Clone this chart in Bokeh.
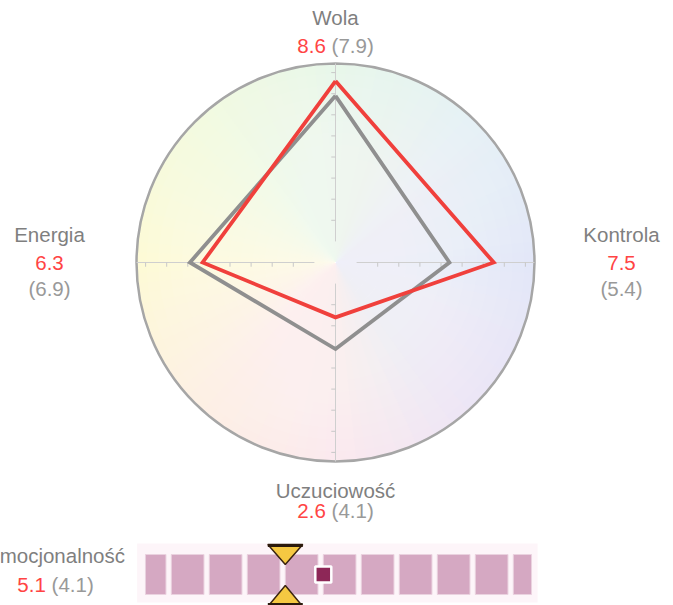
import numpy as np
from bokeh.plotting import figure
from bokeh.models import Range1d
from bokeh.core.properties import value
from bokeh.embed import file_html
from bokeh.resources import INLINE

# ---------------- data ----------------
axis_names = ["Wola", "Kontrola", "Uczuciowość", "Energia"]
axis_angles_deg = [90, 0, 270, 180]
current_values = [8.6, 7.5, 2.6, 6.3]
previous_values = [7.9, 5.4, 4.1, 6.9]

emo_name = "Emocjonalność"
emo_current = 5.1
emo_previous = 4.1
bar_max = 10

# ---------------- layout / style ----------------
W, H = 673, 605
S = 21.1            # pixels per radar unit
CX, CY = 335, 262   # radar centre in page pixels
R = 199 / S         # circle radius in units
BAR0, BAR_U = 129, 38.0  # bar: page x of value 0, px per unit
TY = -8             # text baseline correction

RED = "#f0403c"
GREY_LINE = "#8f8f8f"
LABEL = "#7f7f7f"
VAL_RED = "#ff4444"
VAL_GREY = "#999999"
FONT = value("Liberation Sans")
FS = value("20.5px")

p = figure(width=W, height=H, output_backend="svg", toolbar_location=None,
           x_range=Range1d((0 - CX) / S, (W - CX) / S),
           y_range=Range1d((CY - H) / S, CY / S),
           x_axis_type=None, y_axis_type=None, min_border=0,
           background_fill_color="white", border_fill_color="white")
p.outline_line_color = None
p.extra_x_ranges = {"px": Range1d(0, W),
                    "bar": Range1d((0 - BAR0) / BAR_U, (W - BAR0) / BAR_U)}
p.extra_y_ranges = {"px": Range1d(H, 0)}

# ---------------- circle background gradient ----------------
anchors = [(0, "#e3e7f8"), (45, "#e6f1f6"), (90, "#e8f7ea"), (135, "#f3fae0"),
           (180, "#fdfad6"), (225, "#fdf0e4"), (270, "#fbe9ee"), (315, "#ece6f6"),
           (360, "#e3e7f8")]

def hex2rgb(h):
    return np.array([int(h[i:i + 2], 16) for i in (1, 3, 5)], dtype=float)

n = 120
starts, ends, cols = [], [], []
for i in range(n):
    a = 360.0 * (i + 0.5) / n
    for j in range(len(anchors) - 1):
        if anchors[j][0] <= a <= anchors[j + 1][0]:
            t = (a - anchors[j][0]) / (anchors[j + 1][0] - anchors[j][0])
            c = hex2rgb(anchors[j][1]) * (1 - t) + hex2rgb(anchors[j + 1][1]) * t
            break
    cols.append("#%02x%02x%02x" % tuple(int(round(v)) for v in c))
    starts.append(np.deg2rad(360.0 * i / n))
    ends.append(np.deg2rad(360.0 * (i + 1.6) / n))
p.wedge(x=0, y=0, radius=R, start_angle=starts, end_angle=ends,
        fill_color=cols, line_color=None)
for k in range(16):
    p.circle(x=0, y=0, radius=R * (1 - k / 16.0) * 0.95, fill_color="white",
             fill_alpha=0.06, line_color=None)
p.circle(x=0, y=0, radius=R, fill_color=None, line_color="#a6a6a6", line_width=2.5)

# ---------------- axes with ticks ----------------
gap = 1.0
for ang in axis_angles_deg:
    c, s_ = np.cos(np.deg2rad(ang)), np.sin(np.deg2rad(ang))
    p.line(x=[gap * c, R * c], y=[gap * s_, R * s_], line_color="#cfcfcf", line_width=1)
    ticks = np.arange(2, 10)
    tl = 0.2
    if ang in (0, 180):
        p.segment(x0=ticks * c, y0=0, x1=ticks * c, y1=-tl, line_color="#c8c8c8", line_width=1)
    else:
        p.segment(x0=0, y0=ticks * s_, x1=-tl, y1=ticks * s_, line_color="#c8c8c8", line_width=1)

# ---------------- radar polygons ----------------
def poly(vals):
    xs = [v * np.cos(np.deg2rad(a)) for v, a in zip(vals, axis_angles_deg)]
    ys = [v * np.sin(np.deg2rad(a)) for v, a in zip(vals, axis_angles_deg)]
    return xs + xs[:1], ys + ys[:1]

gx, gy = poly(previous_values)
rx, ry = poly(current_values)
p.line(gx, gy, line_color=GREY_LINE, line_width=3.8, line_join="miter")
p.line(rx, ry, line_color=RED, line_width=3.8, line_join="miter")

# ---------------- labels ----------------
def txt(x, y, t, color, align="center"):
    p.text(x=[x], y=[y + TY], text=[t], text_font=FONT, text_font_size=FS,
           text_color=color, text_align=align, text_baseline="alphabetic",
           x_range_name="px", y_range_name="px")

def pair(xc, y, cur, prev):
    a, b = "%.1f" % cur, "(%.1f)" % prev
    w_a = 28.5
    w_b = 42.1
    sp = 5.8
    start = xc - (w_a + sp + w_b) / 2
    txt(start + w_a, y, a, VAL_RED, "right")
    txt(start + w_a + sp, y, b, VAL_GREY, "left")

label_pos = {"Wola": (335, 25, 53, None),
             "Kontrola": (621, 242, 270, 296),
             "Uczuciowość": (335, 498, 518, None),
             "Energia": (49, 242, 270, 296)}
for name, cur, prev in zip(axis_names, current_values, previous_values):
    xc, yl, yv, yp = label_pos[name]
    txt(xc, yl, name, LABEL)
    if yp is None:
        pair(xc, yv, cur, prev)
    else:
        txt(xc, yv, "%.1f" % cur, VAL_RED)
        txt(xc, yp, "(%.1f)" % prev, VAL_GREY)

# ---------------- emotionality bar ----------------
txt(55, 563, emo_name, LABEL)
pair(55, 592, emo_current, emo_previous)

p.quad(left=0.2, right=10.74, bottom=602, top=543, fill_color="#fdf5f9",
       line_color=None, x_range_name="bar", y_range_name="px")
seg_left = [0.42] + [k + 0.1 for k in range(1, bar_max + 1)]
seg_right = [k + 0.96 for k in range(0, bar_max)] + [10.58]
p.quad(left=seg_left, right=seg_right, bottom=594, top=554,
       fill_color="#d5a8c2", line_color="#ead2df", line_width=1,
       x_range_name="bar", y_range_name="px")

hw = 0.46
hx = emo_previous
p.patches(xs=[[hx - hw, hx + hw, hx], [hx - hw, hx + hw, hx]],
          ys=[[544, 544, 564], [606, 606, 585]],
          fill_color="#f5c842", line_color="#3a2410", line_width=1.5,
          x_range_name="bar", y_range_name="px")
p.segment(x0=[hx - hw, hx - hw], x1=[hx + hw, hx + hw], y0=[545, 604], y1=[545, 604],
          line_color="#2b1a0c", line_width=3, x_range_name="bar", y_range_name="px")

p.scatter(x=[emo_current], y=[574], marker="square", size=16,
          fill_color="#8d2757", line_color="white", line_width=2.5,
          x_range_name="bar", y_range_name="px")

open("out.html", "w").write(file_html(p, INLINE))
